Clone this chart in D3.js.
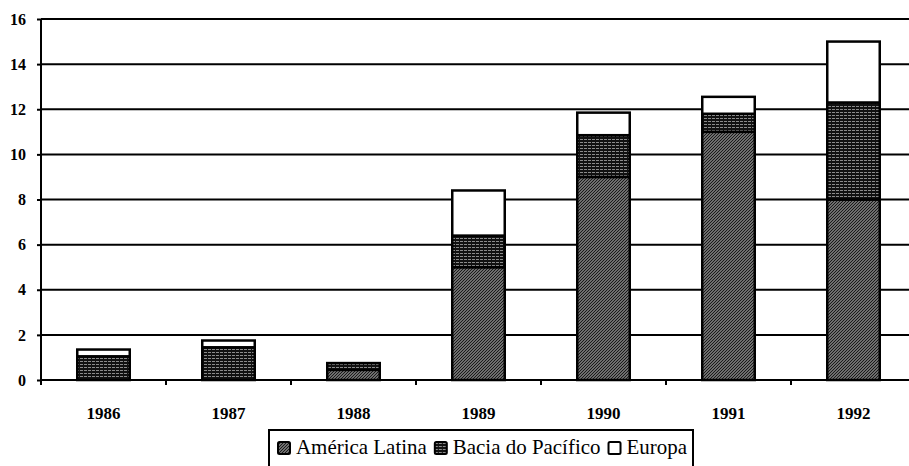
<!DOCTYPE html>
<html>
<head>
<meta charset="utf-8">
<script src="https://cdnjs.cloudflare.com/ajax/libs/d3/7.8.5/d3.min.js"></script>
<style>
    body { margin: 0; background: #fff; }
    svg text { font-family: "Liberation Serif", "Times New Roman", serif !important; }
</style>
</head>
<body>
<div id="chart"></div>
<script>
var years = ["1986", "1987", "1988", "1989", "1990", "1991", "1992"];
var seriesNames = ["América Latina", "Bacia do Pacífico", "Europa"];
var americaLatina = [0, 0, 0.45, 5.0, 9.0, 11.0, 8.0];
var baciaPacifico = [1.05, 1.45, 0.3, 1.4, 1.85, 0.8, 4.3];
var europa = [0.3, 0.3, 0, 2.0, 1.0, 0.75, 2.7];
var yTicks = [0, 2, 4, 6, 8, 10, 12, 14, 16];

var width = 909, height = 466;

var svg = d3.select("#chart").append("svg")
    .attr("width", width)
    .attr("height", height);

// patterns
var defs = svg.append("defs");

var pAL = defs.append("pattern")
    .attr("id", "pat-al")
    .attr("width", 3).attr("height", 3)
    .attr("patternUnits", "userSpaceOnUse");
pAL.append("rect").attr("width", 3).attr("height", 3).attr("fill", "#6e6e6e");
pAL.append("path").attr("d", "M0,3 L3,0 M-1,1 L1,-1 M2,4 L4,2")
    .attr("stroke", "#1a1a1a").attr("stroke-width", 1);

var pBP = defs.append("pattern")
    .attr("id", "pat-bp")
    .attr("width", 4).attr("height", 3)
    .attr("patternUnits", "userSpaceOnUse");
pBP.append("rect").attr("width", 4).attr("height", 3).attr("fill", "#111");
pBP.append("rect").attr("y", 1).attr("width", 3).attr("height", 0.8).attr("fill", "#aaa");

var fills = ["url(#pat-al)", "url(#pat-bp)", "#fff"];

var data = years.map(function(y, i) {
    return { year: y, al: americaLatina[i], bp: baciaPacifico[i], eu: europa[i] };
});

var stack = d3.stack().keys(["al", "bp", "eu"]);
var layers = stack(data);

var x = d3.scaleBand()
    .domain(years)
    .range([41, 916])
    .paddingInner(0.58)
    .paddingOuter(0.29);

var y = d3.scaleLinear()
    .domain([0, 16])
    .range([380, 19]);

// gridlines
svg.append("g")
    .selectAll("line")
    .data(yTicks)
    .enter()
    .append("line")
    .attr("x1", 41)
    .attr("x2", width)
    .attr("y1", function(d) { return y(d); })
    .attr("y2", function(d) { return y(d); })
    .attr("stroke", "#000")
    .attr("stroke-width", 2);

// bars
svg.append("g")
    .selectAll("g")
    .data(layers)
    .enter()
    .append("g")
    .attr("fill", function(d, i) { return fills[i]; })
    .selectAll("rect")
    .data(function(d) { return d.filter(function(p) { return p[1] - p[0] > 0; }); })
    .enter()
    .append("rect")
    .attr("x", function(d) { return x(d.data.year); })
    .attr("width", x.bandwidth())
    .attr("y", function(d) { return y(d[1]); })
    .attr("height", function(d) { return y(d[0]) - y(d[1]); })
    .attr("stroke", "#000")
    .attr("stroke-width", 2.5);

// y axis
var yAxis = d3.axisLeft(y)
    .tickValues(yTicks)
    .tickSize(4)
    .tickPadding(11);

var gy = svg.append("g")
    .attr("transform", "translate(41, 0)")
    .call(yAxis);
gy.select(".domain").attr("stroke-width", 2).attr("d", "M0,19V385");
gy.selectAll(".tick line").attr("stroke-width", 2);
gy.selectAll(".tick text")
    .attr("font-size", 16)
    .attr("font-weight", "bold");

// x axis, ticks at category boundaries
var xAxis = d3.axisBottom(x).tickSize(0).tickPadding(27);
var gx = svg.append("g")
    .attr("transform", "translate(0, 380)")
    .call(xAxis);
gx.select(".domain").attr("stroke-width", 2).attr("d", "M41,0H909");
gx.selectAll(".tick text")
    .attr("font-size", 17)
    .attr("font-weight", "bold");

var bounds = years.map(function(yr) { return x(yr) - (x.step() - x.bandwidth()) / 2; });
bounds.push(916);
gx.selectAll(".bound")
    .data(bounds)
    .enter()
    .append("line")
    .attr("class", "bound")
    .attr("x1", function(d) { return d; })
    .attr("x2", function(d) { return d; })
    .attr("y1", 0)
    .attr("y2", 5)
    .attr("stroke", "#000")
    .attr("stroke-width", 2);

// legend
var legend = svg.append("g").attr("transform", "translate(269, 430)");
legend.append("rect")
    .attr("width", 424).attr("height", 44)
    .attr("fill", "#fff").attr("stroke", "#000").attr("stroke-width", 2);

var items = legend.selectAll(".item")
    .data(seriesNames)
    .enter()
    .append("g")
    .attr("class", "item");

items.append("rect")
    .attr("x", 0).attr("y", 12)
    .attr("width", 12).attr("height", 12)
    .attr("rx", 1.5)
    .attr("fill", function(d, i) { return fills[i]; })
    .attr("stroke", "#000").attr("stroke-width", 2);

var labels = items.append("text")
    .attr("x", 18).attr("y", 24)
    .attr("font-size", 20)
    .attr("fill", "#000")
    .text(function(d) { return d; });

// fit the legend text into the space up to x=687
var widths = [];
labels.each(function() { widths.push(this.getComputedTextLength()); });
var avail = (687 - 278) - 3 * 18 - 2 * 8;
var fs = 20 * avail / d3.sum(widths);
labels.attr("font-size", fs);
var pos = 9;
items.attr("transform", function(d, i) {
    var p = pos;
    pos += 18 + widths[i] * fs / 20 + 8;
    return "translate(" + p + ", 0)";
});
</script>
</body>
</html>
